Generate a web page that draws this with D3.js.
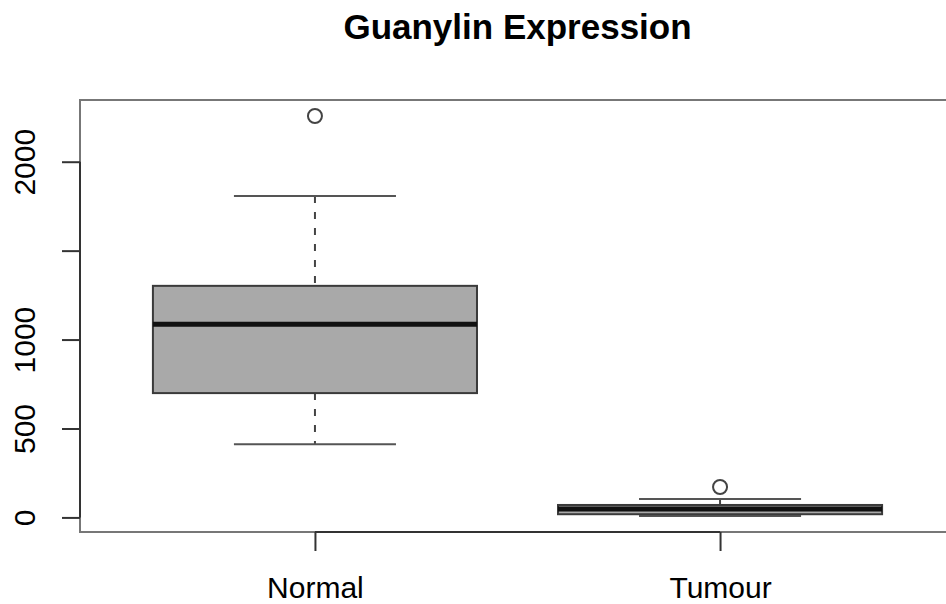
<!DOCTYPE html>
<html>
<head>
<meta charset="utf-8">
<script src="https://cdn.jsdelivr.net/npm/d3@7"></script>
<style>
  html, body { margin: 0; padding: 0; background: #fff; }
  svg text { font-family: "Liberation Sans", Arial, sans-serif; fill: #000; }
</style>
</head>
<body>
<div id="chart"></div>
<script>
/* Guanylin boxplot, R base-graphics look */

const categories = ["Normal", "Tumour"];
const lowerWhisker = [412, 8];
const lowerHinge = [699, 18];
const medians = [1086, 47];
const upperHinge = [1302, 70];
const upperWhisker = [1807, 103];
const outliers = [[2257], [171]];

const yTicks = [0, 500, 1000, 1500, 2000];
const yTickLabels = ["0", "500", "1000", "", "2000"];

const title = "Guanylin Expression";

(() => {
  'use strict';

  const size = { width: 946, height: 604 };
  const plot = { left: 80, right: 955, top: 100, bottom: 532 };

  const svg = d3.select("#chart").append("svg")
    .attr("width", size.width)
    .attr("height", size.height);

  // R style: 4% padding on both axes
  const allVals = lowerWhisker.concat(upperWhisker, ...outliers);
  const yMin = d3.min(allVals), yMax = d3.max(allVals);
  const pad = (yMax - yMin) * 0.04;

  const x = d3.scaleLinear()
    .domain([0.5 - 0.08, categories.length + 0.5 + 0.08])
    .range([plot.left, plot.right]);
  const y = d3.scaleLinear()
    .domain([yMin - pad, yMax + pad])
    .range([plot.bottom, plot.top]);

  const boxHalf = 0.4, capHalf = 0.2;

  // title
  svg.append("text")
    .attr("x", (plot.left + plot.right) / 2)
    .attr("y", 39)
    .attr("text-anchor", "middle")
    .style("font-size", "35px")
    .style("font-weight", "bold")
    .text(title);

  const g = svg.append("g");

  categories.forEach((c, i) => {
    const cx = x(i + 1);
    const grp = g.append("g").attr("class", "box");

    // dashed stems
    grp.append("line")
      .attr("x1", cx).attr("x2", cx)
      .attr("y1", y(upperWhisker[i])).attr("y2", y(upperHinge[i]))
      .attr("stroke", "#444").attr("stroke-width", 2)
      .attr("stroke-dasharray", "7,9");
    grp.append("line")
      .attr("x1", cx).attr("x2", cx)
      .attr("y1", y(lowerHinge[i])).attr("y2", y(lowerWhisker[i]))
      .attr("stroke", "#444").attr("stroke-width", 2)
      .attr("stroke-dasharray", "7,9");

    // caps
    [upperWhisker[i], lowerWhisker[i]].forEach(v => {
      grp.append("line")
        .attr("x1", x(i + 1 - capHalf)).attr("x2", x(i + 1 + capHalf))
        .attr("y1", y(v)).attr("y2", y(v))
        .attr("stroke", "#555").attr("stroke-width", 2);
    });

    // box
    grp.append("rect")
      .attr("x", x(i + 1 - boxHalf))
      .attr("width", x(i + 1 + boxHalf) - x(i + 1 - boxHalf))
      .attr("y", y(upperHinge[i]))
      .attr("height", y(lowerHinge[i]) - y(upperHinge[i]))
      .attr("fill", "#a9a9a9")
      .attr("stroke", "#3a3a3a").attr("stroke-width", 2);

    // median
    grp.append("line")
      .attr("x1", x(i + 1 - boxHalf)).attr("x2", x(i + 1 + boxHalf))
      .attr("y1", y(medians[i])).attr("y2", y(medians[i]))
      .attr("stroke", "#111").attr("stroke-width", 5);

    // outliers
    grp.selectAll("circle").data(outliers[i]).enter().append("circle")
      .attr("cx", cx).attr("cy", d => y(d)).attr("r", 7)
      .attr("fill", "none").attr("stroke", "#444").attr("stroke-width", 2);
  });

  // plot frame
  svg.append("rect")
    .attr("x", plot.left).attr("y", plot.top)
    .attr("width", plot.right - plot.left)
    .attr("height", plot.bottom - plot.top)
    .attr("fill", "none")
    .attr("stroke", "#777").attr("stroke-width", 2);

  // y axis
  const yAxis = d3.axisLeft(y)
    .tickValues(yTicks)
    .tickSize(18)
    .tickFormat((d, i) => yTickLabels[i]);
  const ya = svg.append("g")
    .attr("transform", "translate(" + plot.left + ",0)")
    .call(yAxis);
  ya.select(".domain")
    .attr("d", "M0," + y(yTicks[0]) + "V" + y(yTicks[yTicks.length - 1]));
  ya.selectAll("path, line").attr("stroke", "#333").attr("stroke-width", 2);
  // tick groups are already translated to y(d); only shift left and rotate
  ya.selectAll("text")
    .attr("transform", "translate(" + (35 - plot.left) + ",0) rotate(-90)")
    .attr("x", 0).attr("y", 0).attr("dy", 0)
    .attr("text-anchor", "middle")
    .style("font-size", "30px")
    .style("fill", "#000");

  // x axis
  const xAxis = d3.axisBottom(x)
    .tickValues(categories.map((c, i) => i + 1))
    .tickSize(19)
    .tickFormat((d, i) => categories[i]);
  const xa = svg.append("g")
    .attr("transform", "translate(0," + plot.bottom + ")")
    .call(xAxis);
  xa.select(".domain")
    .attr("d", "M" + x(1) + ",0H" + x(categories.length));
  xa.selectAll("path, line").attr("stroke", "#333").attr("stroke-width", 2);
  xa.selectAll("text")
    .attr("y", 66).attr("dy", 0)
    .style("font-size", "30px")
    .style("fill", "#000");
})();
</script>
</body>
</html>
